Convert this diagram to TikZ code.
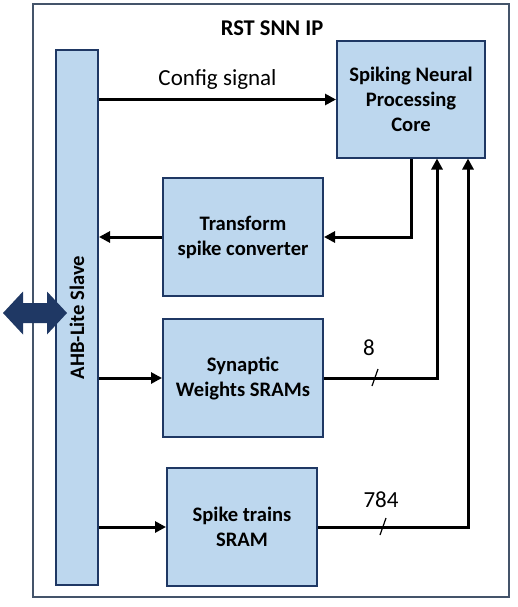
\documentclass[tikz,border=0pt]{standalone}
\usepackage{fontspec}
\setmainfont{Carlito}
\usepackage{tikz}
\usetikzlibrary{arrows.meta,calc}
\definecolor{boxfill}{HTML}{BDD7EE}
\definecolor{boxline}{HTML}{1F3864}
\definecolor{frameline}{HTML}{44546A}

\begin{document}
\begin{tikzpicture}[x=1pt,y=-1pt,
    block/.style={draw=boxline,fill=boxfill,line width=2pt,align=center,
      font=\fontsize{20.6}{25}\selectfont\bfseries,inner sep=0pt},
    wire/.style={line width=3pt,-{Triangle[length=11pt,width=11pt]}},
    num/.style={font=\fontsize{23}{25}\selectfont,inner sep=0pt}]
    \useasboundingbox (0,0) rectangle (518,607);

    \node[draw=frameline,line width=1.2pt,fill=white,minimum width=476pt,
      minimum height=593pt] (ip) at (271,300.5) {};
    \node[font=\fontsize{22.5}{26}\selectfont\bfseries] (title) at (272,28) {RST SNN IP};

    \node[block,rotate=90,minimum width=535pt,minimum height=42pt] (ahb) at (77,317.5) {AHB-Lite Slave};
    \node[block,minimum width=148pt,minimum height=117pt] (core) at (411,99.5)
      {Spiking Neural\\Processing\\Core};
    \node[block,minimum width=160pt,minimum height=118pt] (conv) at (243,237)
      {Transform\\spike converter};
    \node[block,minimum width=160pt,minimum height=118pt] (syn) at (243,378)
      {Synaptic\\Weights SRAMs};
    \node[block,minimum width=150pt,minimum height=118pt] (spk) at (242,527)
      {Spike trains\\SRAM};

    \fill[boxline] (3,313) -- (23,291.5) -- (23,303) -- (47,303) -- (47,291.5) -- (67,313)
      -- (47,334.5) -- (47,323) -- (23,323) -- (23,334.5) -- cycle;

    \coordinate (in8) at (437,158.5);
    \coordinate (in784) at (468,158.5);

    \draw[wire] (core.west -| ahb.south) -- (core.west)
      node[midway,above=5pt,font=\fontsize{23}{26}\selectfont] (cfg) {Config signal};
    \draw[wire] (core.south) |- (conv.east);
    \draw[wire] (conv.west) -- (conv.west -| ahb.south);
    \draw[wire] (syn.west -| ahb.south) -- (syn.west);
    \draw[wire] (spk.west -| ahb.south) -- (spk.west);
    \draw[wire] (syn.east) -| (in8);
    \draw[wire] (spk.east) -| (in784);

    \draw[line width=1.2pt] (372,386) -- (378,369);
    \draw[line width=1.2pt] (380,535) -- (386,518);
    \node[num] (w8) at (369,348) {8};
    \node[num] (w784) at (381,500) {784};
\end{tikzpicture}
\end{document}
